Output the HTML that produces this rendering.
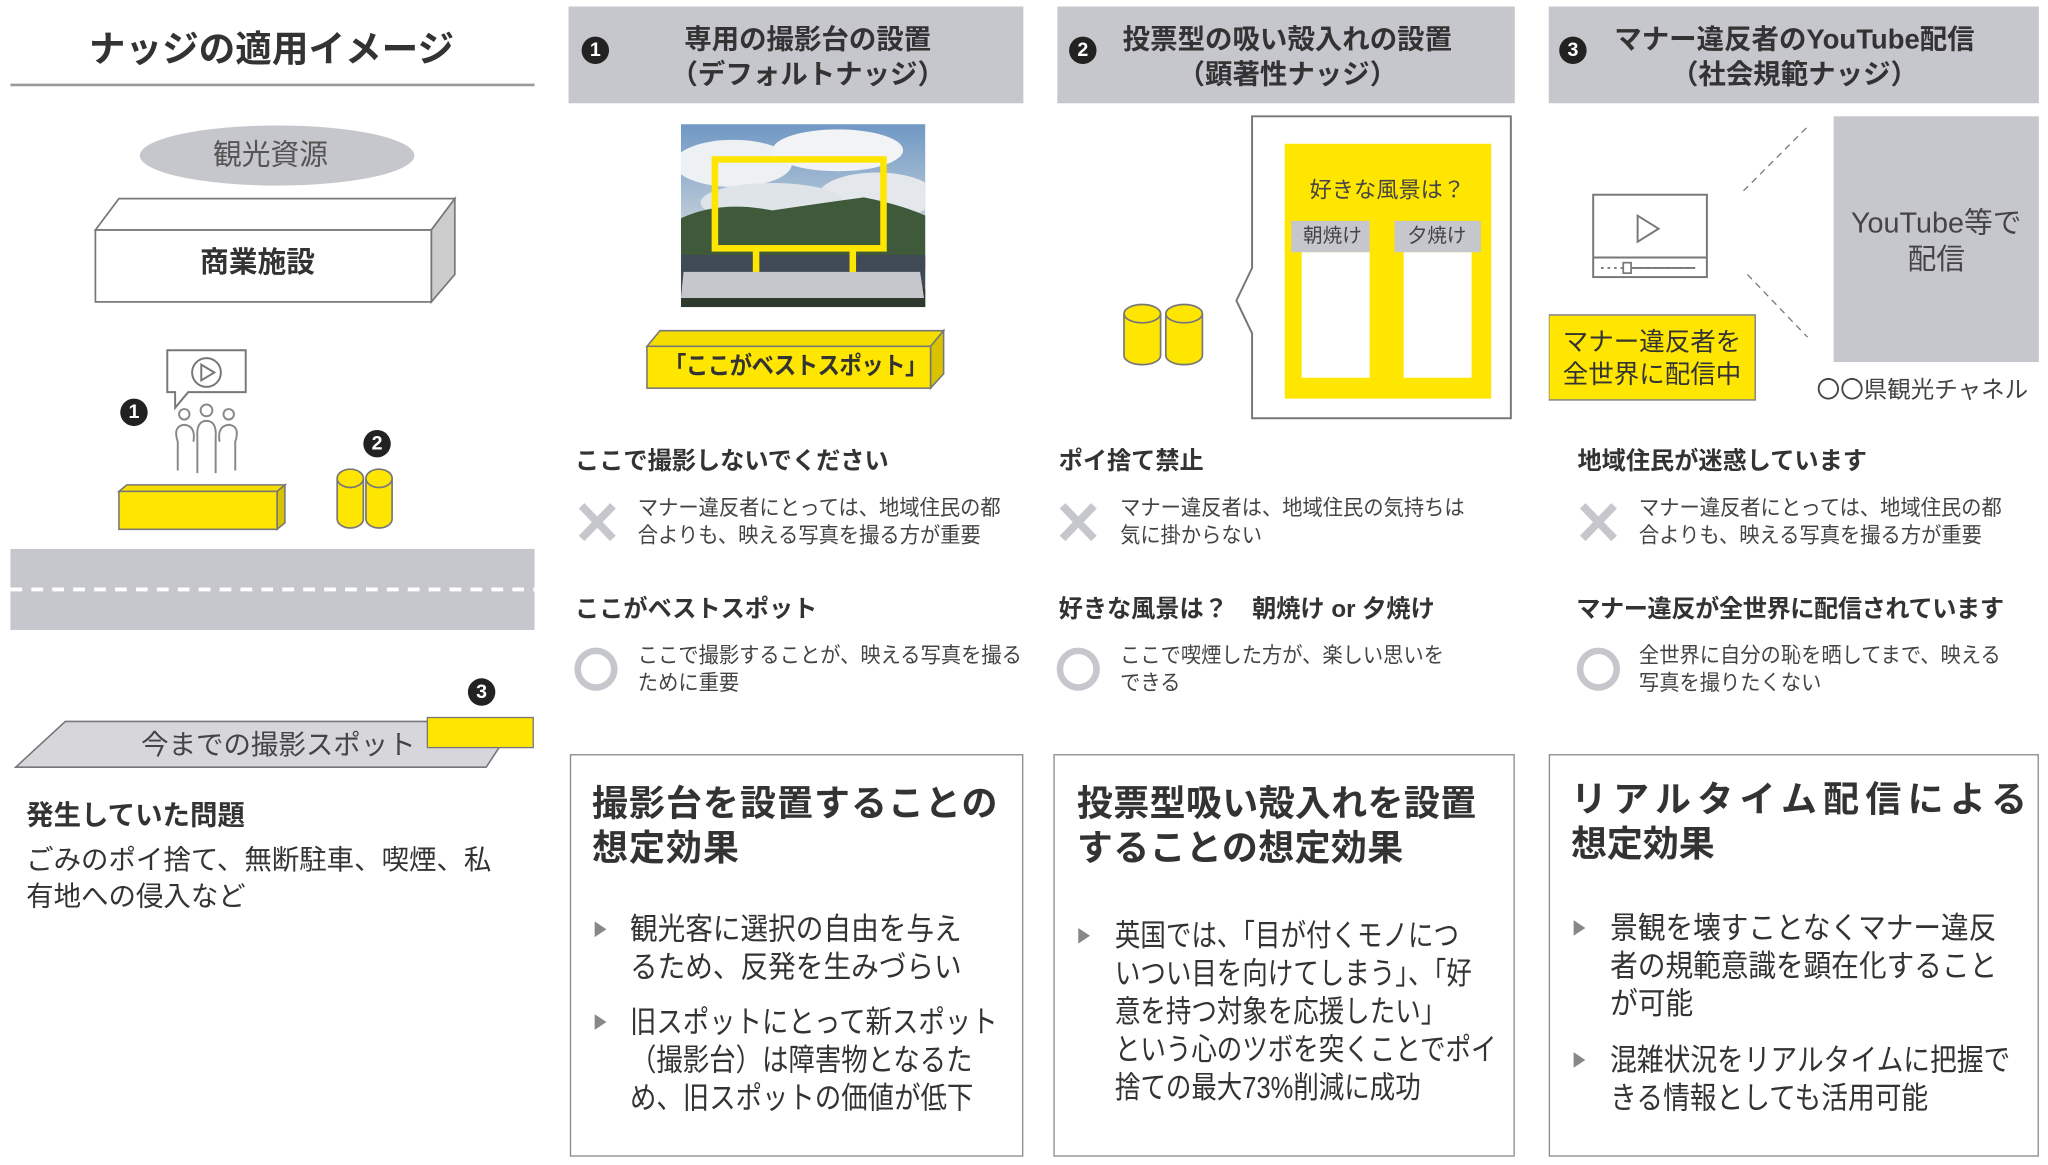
<!DOCTYPE html>
<html><head><meta charset="utf-8"><style>
html,body{margin:0;padding:0;background:#fff;overflow:hidden}
#w{position:absolute;left:0;top:0;width:1567px;height:891px;transform:scale(1.30696);transform-origin:0 0;font-family:"Liberation Sans","Noto Sans CJK JP",sans-serif;color:#333}
.a{position:absolute;white-space:nowrap;line-height:1}
.b{font-weight:bold}
.hd{position:absolute;background:#c6c6cd;top:5px;height:74px}
.eb{position:absolute;border:1.5px solid #8a8a8a;top:577px;height:308px;box-sizing:border-box}
.num{position:absolute;width:21px;height:21px;border-radius:50%;background:#222;color:#fff;font-weight:bold;font-size:15px;line-height:21px;text-align:center}
.t17{font-size:16.5px;color:#444;transform:scaleX(0.94);transform-origin:0 0}
.st{font-size:18.5px;font-weight:bold;color:#333}
.bt{font-size:23.5px;color:#333;transform-origin:0 0}
.ti{font-size:27.5px;font-weight:bold;color:#333}
.tri{position:absolute;width:0;height:0;border-left:9px solid #888;border-top:6px solid transparent;border-bottom:6px solid transparent}
</style></head><body><div id="w">

<!-- Left -->
<div class="a b" style="left:68px;top:24px;font-size:28px;color:#333">ナッジの適用イメージ</div>
<div style="position:absolute;left:8px;top:64px;width:401px;height:1.5px;background:#999"></div>

<svg style="position:absolute;left:0;top:0" width="420" height="600">
<ellipse cx="212" cy="119" rx="105" ry="23" fill="#c6c6cd"/>
<polygon points="73,176 91,152 348,152 330,176" fill="#fff" stroke="#777" stroke-width="1.3"/>
<polygon points="330,176 348,152 348,210 330,231" fill="#ccc" stroke="#777" stroke-width="1.3"/>
<rect x="73" y="176" width="257" height="55" fill="#fff" stroke="#777" stroke-width="1.3"/>
<path d="M128,268 H188 V300 H144 L134,312 V300 H128 Z" fill="#fff" stroke="#777" stroke-width="1.5"/>
<circle cx="158" cy="285" r="11" fill="none" stroke="#777" stroke-width="1.5"/>
<path d="M154,279 L164,285 L154,291 Z" fill="none" stroke="#777" stroke-width="1.5"/>
<g fill="none" stroke="#888" stroke-width="1.5">
<circle cx="141" cy="317" r="4"/><circle cx="158" cy="314" r="4.5"/><circle cx="175" cy="317" r="4"/>
<path d="M136,360 V338 Q132,326 141,325 Q150,326 148,338"/>
<path d="M151,362 V335 Q150,322 158,322 Q166,322 165,335 V362"/>
<path d="M180,360 V338 Q184,326 175,325 Q166,326 168,338"/>
</g>
<polygon points="91,376 97,371 218,371 212,376" fill="#f6dd00" stroke="#777" stroke-width="1.2"/>
<polygon points="212,376 218,371 218,400 212,405" fill="#d9c200" stroke="#777" stroke-width="1.2"/>
<rect x="91" y="376" width="121" height="29" fill="#ffe600" stroke="#777" stroke-width="1.2"/>
<g stroke="#777" stroke-width="1.3" fill="#ffe600">
<path d="M258,366 V397 A10,7 0 0 0 278,397 V366"/><ellipse cx="268" cy="366" rx="10" ry="7"/>
<path d="M280,366 V397 A10,7 0 0 0 300,397 V366"/><ellipse cx="290" cy="366" rx="10" ry="7"/>
</g>
<rect x="8" y="420" width="401" height="62" fill="#c6c6cd"/>
<line x1="8" y1="451" x2="409" y2="451" stroke="#fff" stroke-width="3" stroke-dasharray="9,7"/>
<polygon points="50,552 395,552 372,587 12,587" fill="#d6d6db" stroke="#777" stroke-width="1.2"/>
<rect x="327" y="549" width="81" height="23" fill="#ffe600" stroke="#777" stroke-width="1"/>
</svg>
<div class="a" style="left:163px;top:108px;font-size:22px;color:#555">観光資源</div>
<div class="a b" style="left:153px;top:190px;font-size:22px">商業施設</div>
<div class="num" style="left:92px;top:305px">1</div>
<div class="num" style="left:278px;top:329px">2</div>
<div class="num" style="left:358px;top:519px">3</div>
<div class="a" style="left:108px;top:560px;font-size:21px;color:#444">今までの撮影スポット</div>
<div class="a b" style="left:20px;top:614px;font-size:21px">発生していた問題</div>
<div class="a" style="left:20px;top:645px;font-size:21px;line-height:28px;color:#333">ごみのポイ捨て、無断駐車、喫煙、私<br>有地への侵入など</div>

<!-- Headers -->
<div class="hd" style="left:435px;width:348px"></div>
<div class="hd" style="left:809px;width:350px"></div>
<div class="hd" style="left:1185px;width:375px"></div>
<div class="num" style="left:445px;top:28px">1</div>
<div class="num" style="left:818px;top:28px">2</div>
<div class="num" style="left:1193px;top:28px">3</div>
<div class="a b" style="left:433px;width:370px;text-align:center;top:17px;font-size:21px;line-height:27px">専用の撮影台の設置<br>（デフォルトナッジ）</div>
<div class="a b" style="left:795px;width:380px;text-align:center;top:17px;font-size:21px;line-height:27px">投票型の吸い殻入れの設置<br>（顕著性ナッジ）</div>
<div class="a b" style="left:1183px;width:380px;text-align:center;top:17px;font-size:21px;line-height:27px">マナー違反者のYouTube配信<br>（社会規範ナッジ）</div>

<!-- Col1 graphic -->
<svg style="position:absolute;left:521px;top:95px" width="187" height="140">
<defs><linearGradient id="sk" x1="0" y1="0" x2="0" y2="1"><stop offset="0" stop-color="#6f98c4"/><stop offset="0.6" stop-color="#c9d3dc"/></linearGradient></defs>
<rect width="187" height="140" fill="url(#sk)"/>
<ellipse cx="40" cy="30" rx="45" ry="18" fill="#eef1f4"/><ellipse cx="120" cy="20" rx="50" ry="16" fill="#f1f3f5"/>
<ellipse cx="150" cy="55" rx="45" ry="18" fill="#e4e8ec"/><ellipse cx="70" cy="60" rx="55" ry="15" fill="#dfe4e8"/>
<path d="M0,72 Q30,58 70,66 Q110,60 140,56 Q170,62 187,70 V112 H0 Z" fill="#3f5a3a"/>
<rect y="100" width="187" height="40" fill="#3f4a56"/>
<rect y="126" width="187" height="14" fill="#2e3a2e"/>
<rect x="26" y="27" width="129" height="68" fill="none" stroke="#ffe600" stroke-width="5"/>
<rect x="55" y="95" width="5" height="20" fill="#ffe600"/><rect x="129" y="95" width="5" height="20" fill="#ffe600"/>
<polygon points="2,113 183,113 186,133 0,133" fill="#c6c6cd"/>
</svg>
<svg style="position:absolute;left:490px;top:248px" width="240" height="55">
<polygon points="5,17 15,5 232,5 222,17" fill="#f6dd00" stroke="#777" stroke-width="1.2"/>
<polygon points="222,17 232,5 232,38 222,49" fill="#d9c200" stroke="#777" stroke-width="1.2"/>
<rect x="5" y="17" width="217" height="32" fill="#ffe600" stroke="#777" stroke-width="1.2"/>
</svg>
<div class="a b" style="left:508px;top:271px;font-size:18.5px;letter-spacing:-0.5px;transform:scaleX(0.93);transform-origin:0 0">「ここがベストスポット」</div>

<!-- Col2 graphic -->
<svg style="position:absolute;left:850px;top:85px" width="320" height="240">
<path d="M108,4 H306 V235 H108 V170 L96,145 L108,120 Z" fill="#fff" stroke="#777" stroke-width="1.5"/>
<rect x="133" y="25" width="158" height="195" fill="#ffe600"/>
<rect x="138" y="84" width="60" height="24" fill="#c6c6cd"/>
<rect x="217" y="84" width="66" height="24" fill="#c6c6cd"/>
<rect x="146" y="108" width="52" height="96" fill="#fff"/>
<rect x="224" y="108" width="52" height="96" fill="#fff"/>
<g stroke="#777" stroke-width="1.3" fill="#ffe600">
<path d="M10,155 V187 A14,7 0 0 0 38,187 V155"/><ellipse cx="24" cy="155" rx="14" ry="7"/>
<path d="M42,155 V187 A14,7 0 0 0 70,187 V155"/><ellipse cx="56" cy="155" rx="14" ry="7"/>
</g>
</svg>
<div class="a" style="left:1002px;top:137px;font-size:17px;color:#444">好きな風景は？</div>
<div class="a" style="left:997px;top:173px;font-size:15px;color:#444">朝焼け</div>
<div class="a" style="left:1077px;top:173px;font-size:15px;color:#444">夕焼け</div>

<!-- Col3 graphic -->
<svg style="position:absolute;left:1185px;top:85px" width="380" height="230">
<rect x="34" y="64" width="87" height="63" fill="#fff" stroke="#777" stroke-width="1.5"/>
<line x1="34" y1="112" x2="121" y2="112" stroke="#777" stroke-width="1.5"/>
<path d="M68,80 L84,90 L68,100 Z" fill="none" stroke="#777" stroke-width="1.5"/>
<line x1="40" y1="120" x2="115" y2="120" stroke="#777" stroke-width="1.5" stroke-dasharray="2,3"/>
<line x1="62" y1="120" x2="112" y2="120" stroke="#777" stroke-width="1.5"/>
<rect x="57" y="116" width="6" height="8" fill="#fff" stroke="#777" stroke-width="1.3"/>
<line x1="149" y1="61" x2="198" y2="12" stroke="#777" stroke-width="1" stroke-dasharray="5,4"/>
<line x1="152" y1="125" x2="198" y2="173" stroke="#777" stroke-width="1" stroke-dasharray="5,4"/>
<rect x="218" y="4" width="157" height="188" fill="#c6c6cd"/>
<rect x="0" y="156" width="158" height="65" fill="#ffe600" stroke="#888" stroke-width="1.2"/>
</svg>
<div class="a" style="left:1403px;width:157px;text-align:center;top:157px;font-size:22px;line-height:28px;color:#444">YouTube等で<br>配信</div>
<div class="a" style="left:1185px;width:158px;text-align:center;top:250px;font-size:19.5px;line-height:25px;color:#333">マナー違反者を<br>全世界に配信中</div>
<div class="a" style="left:1390px;top:289px;font-size:18px;color:#444">〇〇県観光チャネル</div>

<!-- Mid sections -->
<svg style="position:absolute;left:0;top:0" width="1567" height="560">
<g stroke="#c6c6cd" stroke-width="6" stroke-linecap="butt">
<line x1="445" y1="387" x2="469" y2="412"/><line x1="469" y1="387" x2="445" y2="412"/>
<line x1="813" y1="387" x2="837" y2="412"/><line x1="837" y1="387" x2="813" y2="412"/>
<line x1="1211" y1="387" x2="1235" y2="412"/><line x1="1235" y1="387" x2="1211" y2="412"/>
</g>
<g fill="none" stroke="#c6c6cd" stroke-width="5">
<circle cx="456" cy="512" r="14"/><circle cx="825" cy="512" r="14"/><circle cx="1223" cy="512" r="14"/>
</g>
</svg>
<div class="a st" style="left:440px;top:344px">ここで撮影しないでください</div>
<div class="a t17" style="left:488px;top:379px;line-height:21px">マナー違反者にとっては、地域住民の都<br>合よりも、映える写真を撮る方が重要</div>
<div class="a st" style="left:440px;top:457px">ここがベストスポット</div>
<div class="a t17" style="left:488px;top:492px;line-height:21px">ここで撮影することが、映える写真を撮る<br>ために重要</div>

<div class="a st" style="left:810px;top:344px">ポイ捨て禁止</div>
<div class="a t17" style="left:857px;top:379px;line-height:21px">マナー違反者は、地域住民の気持ちは<br>気に掛からない</div>
<div class="a st" style="left:810px;top:457px">好きな風景は？　朝焼け or 夕焼け</div>
<div class="a t17" style="left:857px;top:492px;line-height:21px">ここで喫煙した方が、楽しい思いを<br>できる</div>

<div class="a st" style="left:1207px;top:344px">地域住民が迷惑しています</div>
<div class="a t17" style="left:1254px;top:379px;line-height:21px">マナー違反者にとっては、地域住民の都<br>合よりも、映える写真を撮る方が重要</div>
<div class="a st" style="left:1206px;top:457px;letter-spacing:-0.3px">マナー違反が全世界に配信されています</div>
<div class="a t17" style="left:1254px;top:492px;line-height:21px">全世界に自分の恥を晒してまで、映える<br>写真を撮りたくない</div>

<!-- Effect boxes -->
<div class="eb" style="left:436px;width:347px"></div>
<div class="eb" style="left:806px;width:353px"></div>
<div class="eb" style="left:1185px;width:375px"></div>

<div class="a ti" style="left:453px;top:598px;line-height:34px;letter-spacing:0.8px">撮影台を設置することの<br>想定効果</div>
<div class="tri" style="left:455px;top:705px"></div>
<div class="tri" style="left:455px;top:776px"></div>
<div class="a bt" style="left:482px;top:697px;line-height:29px;transform:scaleX(0.9)">観光客に選択の自由を与え<br>るため、反発を生みづらい</div>
<div class="a bt" style="left:482px;top:768px;line-height:29px;transform:scaleX(0.86)">旧スポットにとって新スポット<br>（撮影台）は障害物となるた<br>め、旧スポットの価値が低下</div>

<div class="a ti" style="left:824px;top:598px;line-height:34px;letter-spacing:0.3px">投票型吸い殻入れを設置<br>することの想定効果</div>
<div class="tri" style="left:825px;top:710px"></div>
<div class="a bt" style="left:853px;top:702px;line-height:29px;transform:scaleX(0.83)">英国では、「目が付くモノにつ<br>いつい目を向けてしまう」、「好<br>意を持つ対象を応援したい」<br>という心のツボを突くことでポイ<br>捨ての最大73%削減に成功</div>

<div class="a ti" style="left:1202px;top:598px;letter-spacing:4.8px">リアルタイム配信による</div>
<div class="a ti" style="left:1202px;top:632px">想定効果</div>
<div class="tri" style="left:1204px;top:704px"></div>
<div class="tri" style="left:1204px;top:805px"></div>
<div class="a bt" style="left:1232px;top:696px;line-height:29px;transform:scaleX(0.9)">景観を壊すことなくマナー違反<br>者の規範意識を顕在化すること<br>が可能</div>
<div class="a bt" style="left:1232px;top:797px;line-height:29px;transform:scaleX(0.87)">混雑状況をリアルタイムに把握で<br>きる情報としても活用可能</div>

</div></body></html>
